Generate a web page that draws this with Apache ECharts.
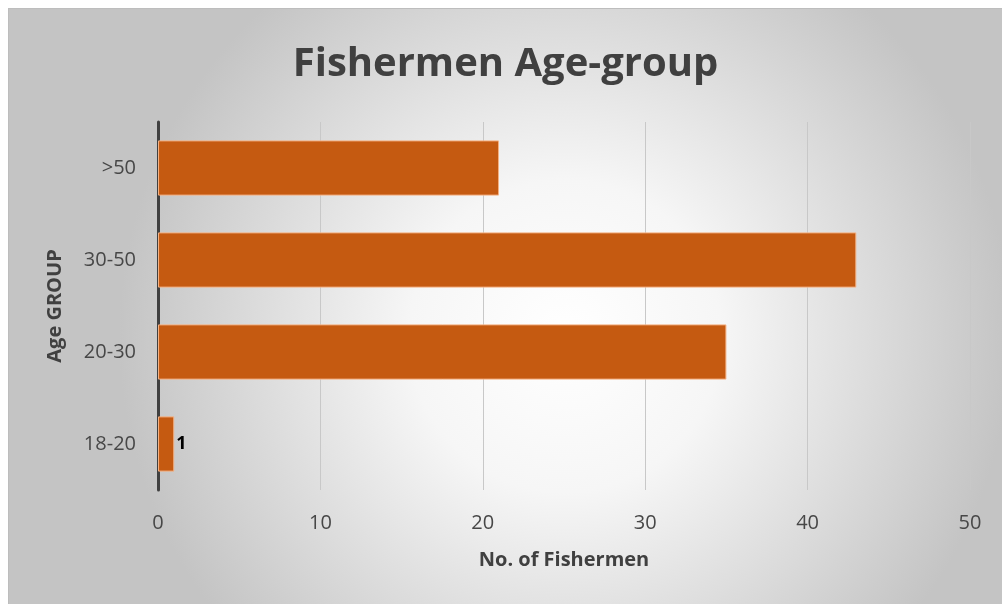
<!DOCTYPE html>
<html>
<head>
<meta charset="utf-8">
<script src="https://cdn.jsdelivr.net/npm/echarts@6/dist/echarts.min.js"></script>
<style>
  html, body { margin: 0; padding: 0; background: #ffffff; }
  #frame { position: absolute; left: 8px; top: 8px; width: 994px; height: 596px;
           border-top: 1px solid #bdbdbd; border-left: 1px solid #bdbdbd; box-sizing: border-box; }
  #chart { width: 100%; height: 100%; }
</style>
</head>
<body>
<div id="frame"><div id="chart"></div></div>
<script>
// Age groups (bottom to top) and the number of fishermen in each
const categories = ['18-20', '20-30', '30-50', '>50'];
const fishermen = [1, 35, 43, 21];
const xTicks = [0, 10, 20, 30, 40, 50];

const chart = echarts.init(document.getElementById('chart'), null, { renderer: 'canvas' });

const labelFont = '"Open Sans", "DejaVu Sans", sans-serif';

chart.setOption({
  backgroundColor: {
    type: 'radial', x: 0.56, y: 0.55, r: 0.75,
    colorStops: [
      { offset: 0, color: '#ffffff' },
      { offset: 0.35, color: '#f6f6f6' },
      { offset: 1, color: '#c4c4c4' }
    ]
  },
  animation: false,
  title: {
    text: 'Fishermen Age-group',
    left: 'center',
    top: 31,
    textStyle: { fontFamily: labelFont, fontWeight: 'bold', fontSize: 40, color: '#404040' }
  },
  grid: { left: 149, right: 32, top: 113, bottom: 114 },
  xAxis: {
    type: 'value',
    min: xTicks[0],
    max: xTicks[xTicks.length - 1],
    interval: 10,
    name: 'No. of Fishermen',
    nameLocation: 'middle',
    nameGap: 60,
    nameTextStyle: { fontFamily: labelFont, fontWeight: 'bold', fontSize: 20, color: '#404040' },
    axisLine: { show: false },
    axisTick: { show: false },
    axisLabel: { margin: 23, fontFamily: labelFont, fontSize: 20, color: '#474747' },
    splitLine: { show: true, lineStyle: { color: '#c8c8c8', width: 1 } }
  },
  yAxis: {
    type: 'category',
    data: categories,
    name: 'Age GROUP',
    nameLocation: 'middle',
    nameGap: 93,
    nameTextStyle: { fontFamily: labelFont, fontWeight: 'bold', fontSize: 20, color: '#404040' },
    axisLine: { show: true, lineStyle: { color: '#404040', width: 3 } },
    axisTick: { show: false },
    axisLabel: { margin: 22, fontFamily: labelFont, fontSize: 20, color: '#474747' }
  },
  series: [{
    type: 'bar',
    data: fishermen.map((v, i) => ({
      value: v,
      label: i === 0 ? {
        show: true, position: 'right', distance: 2,
        fontFamily: labelFont, fontWeight: 'bold', fontSize: 18, color: '#000000'
      } : { show: false }
    })),
    barWidth: '60%',
    itemStyle: { color: '#c55a11', borderColor: '#f4b183', borderWidth: 1 }
  }]
});
</script>
</body>
</html>
